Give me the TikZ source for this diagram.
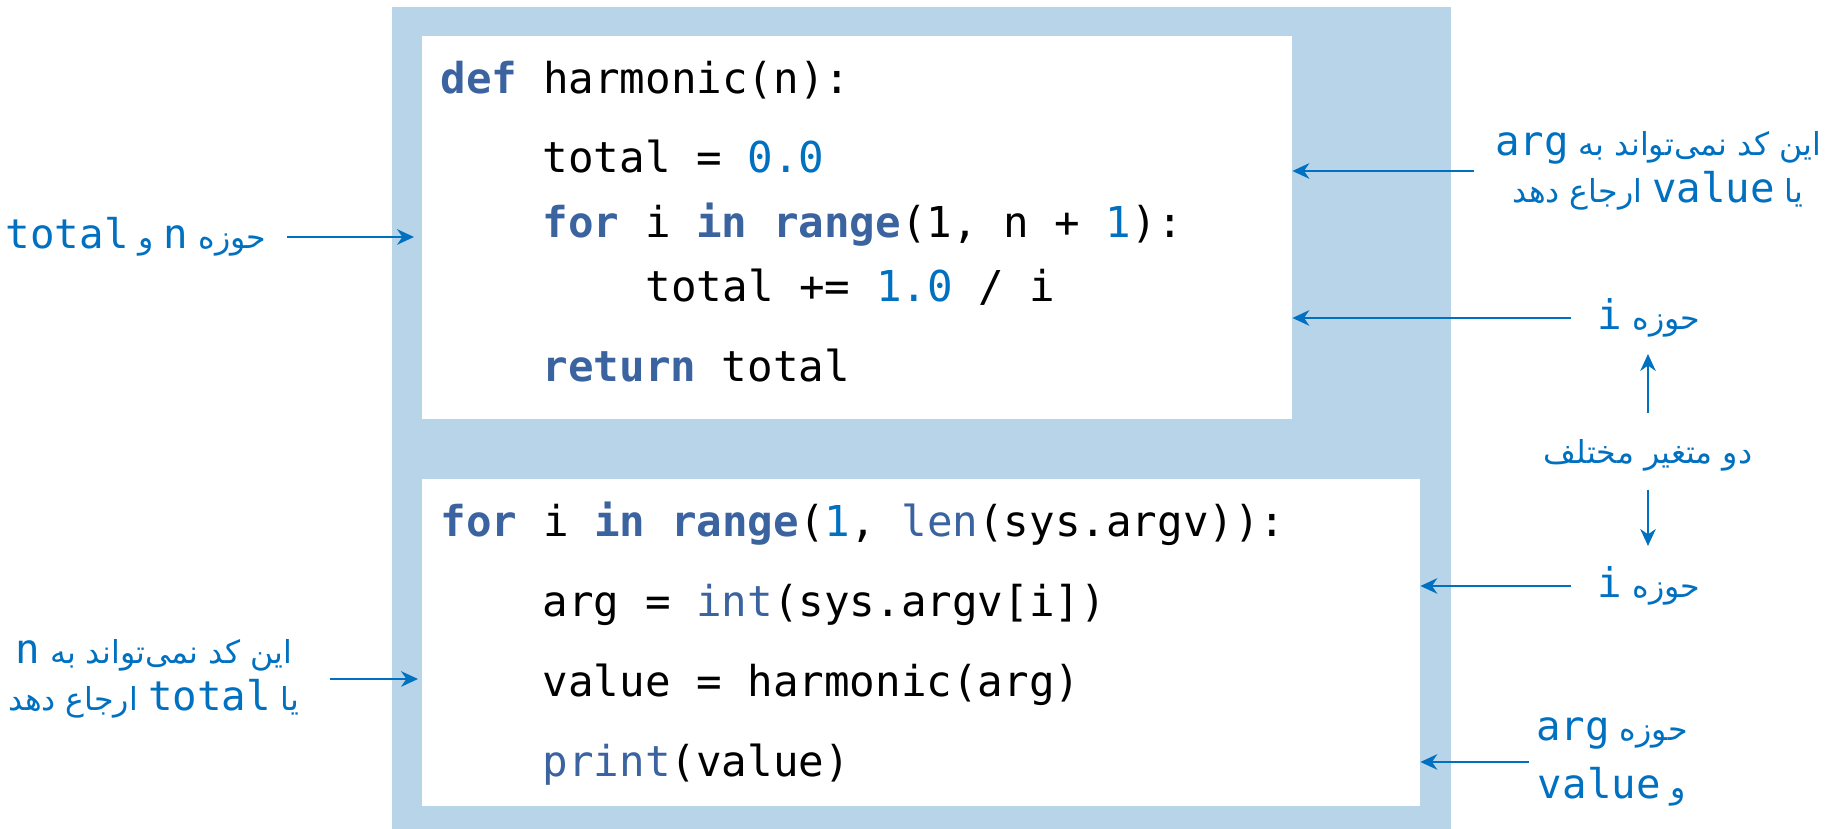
\documentclass[tikz,border=0pt]{standalone}
\usepackage{fontspec}
\usetikzlibrary{arrows.meta,positioning}
\TeXXeTstate=1
\newfontfamily\arabicfont[Script=Arabic]{DejaVu Sans}
\newfontfamily\codefont{DejaVu Sans Mono}
\definecolor{band}{RGB}{184,212,232}
\definecolor{kwblue}{RGB}{58,99,160}
\definecolor{lblblue}{RGB}{0,112,192}
\newcommand\pykw[1]{{\color{kwblue}\bfseries #1}}
\newcommand\pybi[1]{{\color{kwblue}#1}}
\newcommand\pynum[1]{{\color{lblblue}#1}}
\newcommand\lblmono[1]{{\codefont\fontsize{11.6pt}{14pt}\selectfont #1}}
\tikzset{
    codebox/.style={fill=white, inner sep=0pt, anchor=north west},
    codeline/.style={anchor=base west, inner sep=0pt, font=\codefont\fontsize{12.1pt}{14pt}\selectfont},
    note/.style={text=lblblue, inner sep=0pt, align=center, font=\arabicfont\fontsize{9pt}{13.5pt}\selectfont},
    arr/.style={draw=lblblue, line width=0.65pt, -{Stealth[length=4.8pt,width=4.4pt,inset=1.5pt]}},
}
\begin{document}
\begin{tikzpicture}[x=0.1mm, y=-0.1mm]
    \useasboundingbox (0,0) rectangle (1839,829);
    \fill[band] (392,7) rectangle (1451,829);
    \node[codebox, minimum width=87mm, minimum height=38.3mm] (topbox) at (421,35) {};
    \node[codebox, minimum width=99.8mm, minimum height=32.7mm] (mainbox) at (421,478) {};

    \node[codeline] (h1) at (440,94) {\pykw{def} harmonic(n):};
    \node[codeline] (h2) at (542,173) {total = \pynum{0.0}};
    \node[codeline] (h3) at (542,238) {\pykw{for} i \pykw{in} \pykw{range}(1, n + \pynum{1}):};
    \node[codeline] (h4) at (645,302) {total += \pynum{1.0} / i};
    \node[codeline] (h5) at (542,382) {\pykw{return} total};

    \node[codeline] (m1) at (440,537) {\pykw{for} i \pykw{in} \pykw{range}(\pynum{1}, \pybi{len}(sys.argv)):};
    \node[codeline] (m2) at (542,617) {arg = \pybi{int}(sys.argv[i])};
    \node[codeline] (m3) at (542,697) {value = harmonic(arg)};
    \node[codeline] (m4) at (542,777) {\pybi{print}(value)};

    \node[note, anchor=east] (scopeN) at (267,237) {\beginR حوزه \lblmono{n} و \lblmono{total}\endR};
    \node[note, anchor=east] (noRefL) at (300,679) {\beginR این کد نمی^^^^200cتواند به \lblmono{n}\endR\\\beginR یا \lblmono{total} ارجاع دهد\endR};
    \node[note] (noRefR) at (1658,171) {\beginR این کد نمی^^^^200cتواند به \lblmono{arg}\endR\\\beginR یا \lblmono{value} ارجاع دهد\endR};
    \node[note] (scopeI1) at (1649,318) {\beginR حوزه \lblmono{i}\endR};
    \node[note] (twoVars) at (1648,455) {\beginR دو متغیر مختلف\endR};
    \node[note] (scopeI2) at (1649,586) {\beginR حوزه \lblmono{i}\endR};
    \node[note] (scopeAV) at (1612,762) {\beginR حوزه \lblmono{arg}\endR\\[1mm]\beginR و \lblmono{value}\endR};

    \draw[arr, shorten <=2mm, shorten >=0.7mm] (scopeN.east) -- (scopeN.east -| topbox.west);
    \draw[arr, shorten <=3mm, shorten >=0.3mm] (noRefL.east) -- (noRefL.east -| mainbox.west);
    \draw[arr, shorten <=2mm] (noRefR.west) -- (noRefR.west -| topbox.east);
    \draw[arr, shorten <=2.6mm] (scopeI1.west) -- (scopeI1.west -| topbox.east);
    \draw[arr, shorten <=2.6mm] (scopeI2.west) -- (scopeI2.west -| mainbox.east);
    \draw[arr, shorten <=0.7mm] (scopeAV.west) -- (scopeAV.west -| mainbox.east);
    \draw[arr, shorten <=2.5mm, shorten >=1.6mm] (twoVars.north) -- (twoVars.north |- scopeI1.south);
    \draw[arr, shorten <=1.8mm, shorten >=2mm] (twoVars.south) -- (twoVars.south |- scopeI2.north);
\end{tikzpicture}
\end{document}
